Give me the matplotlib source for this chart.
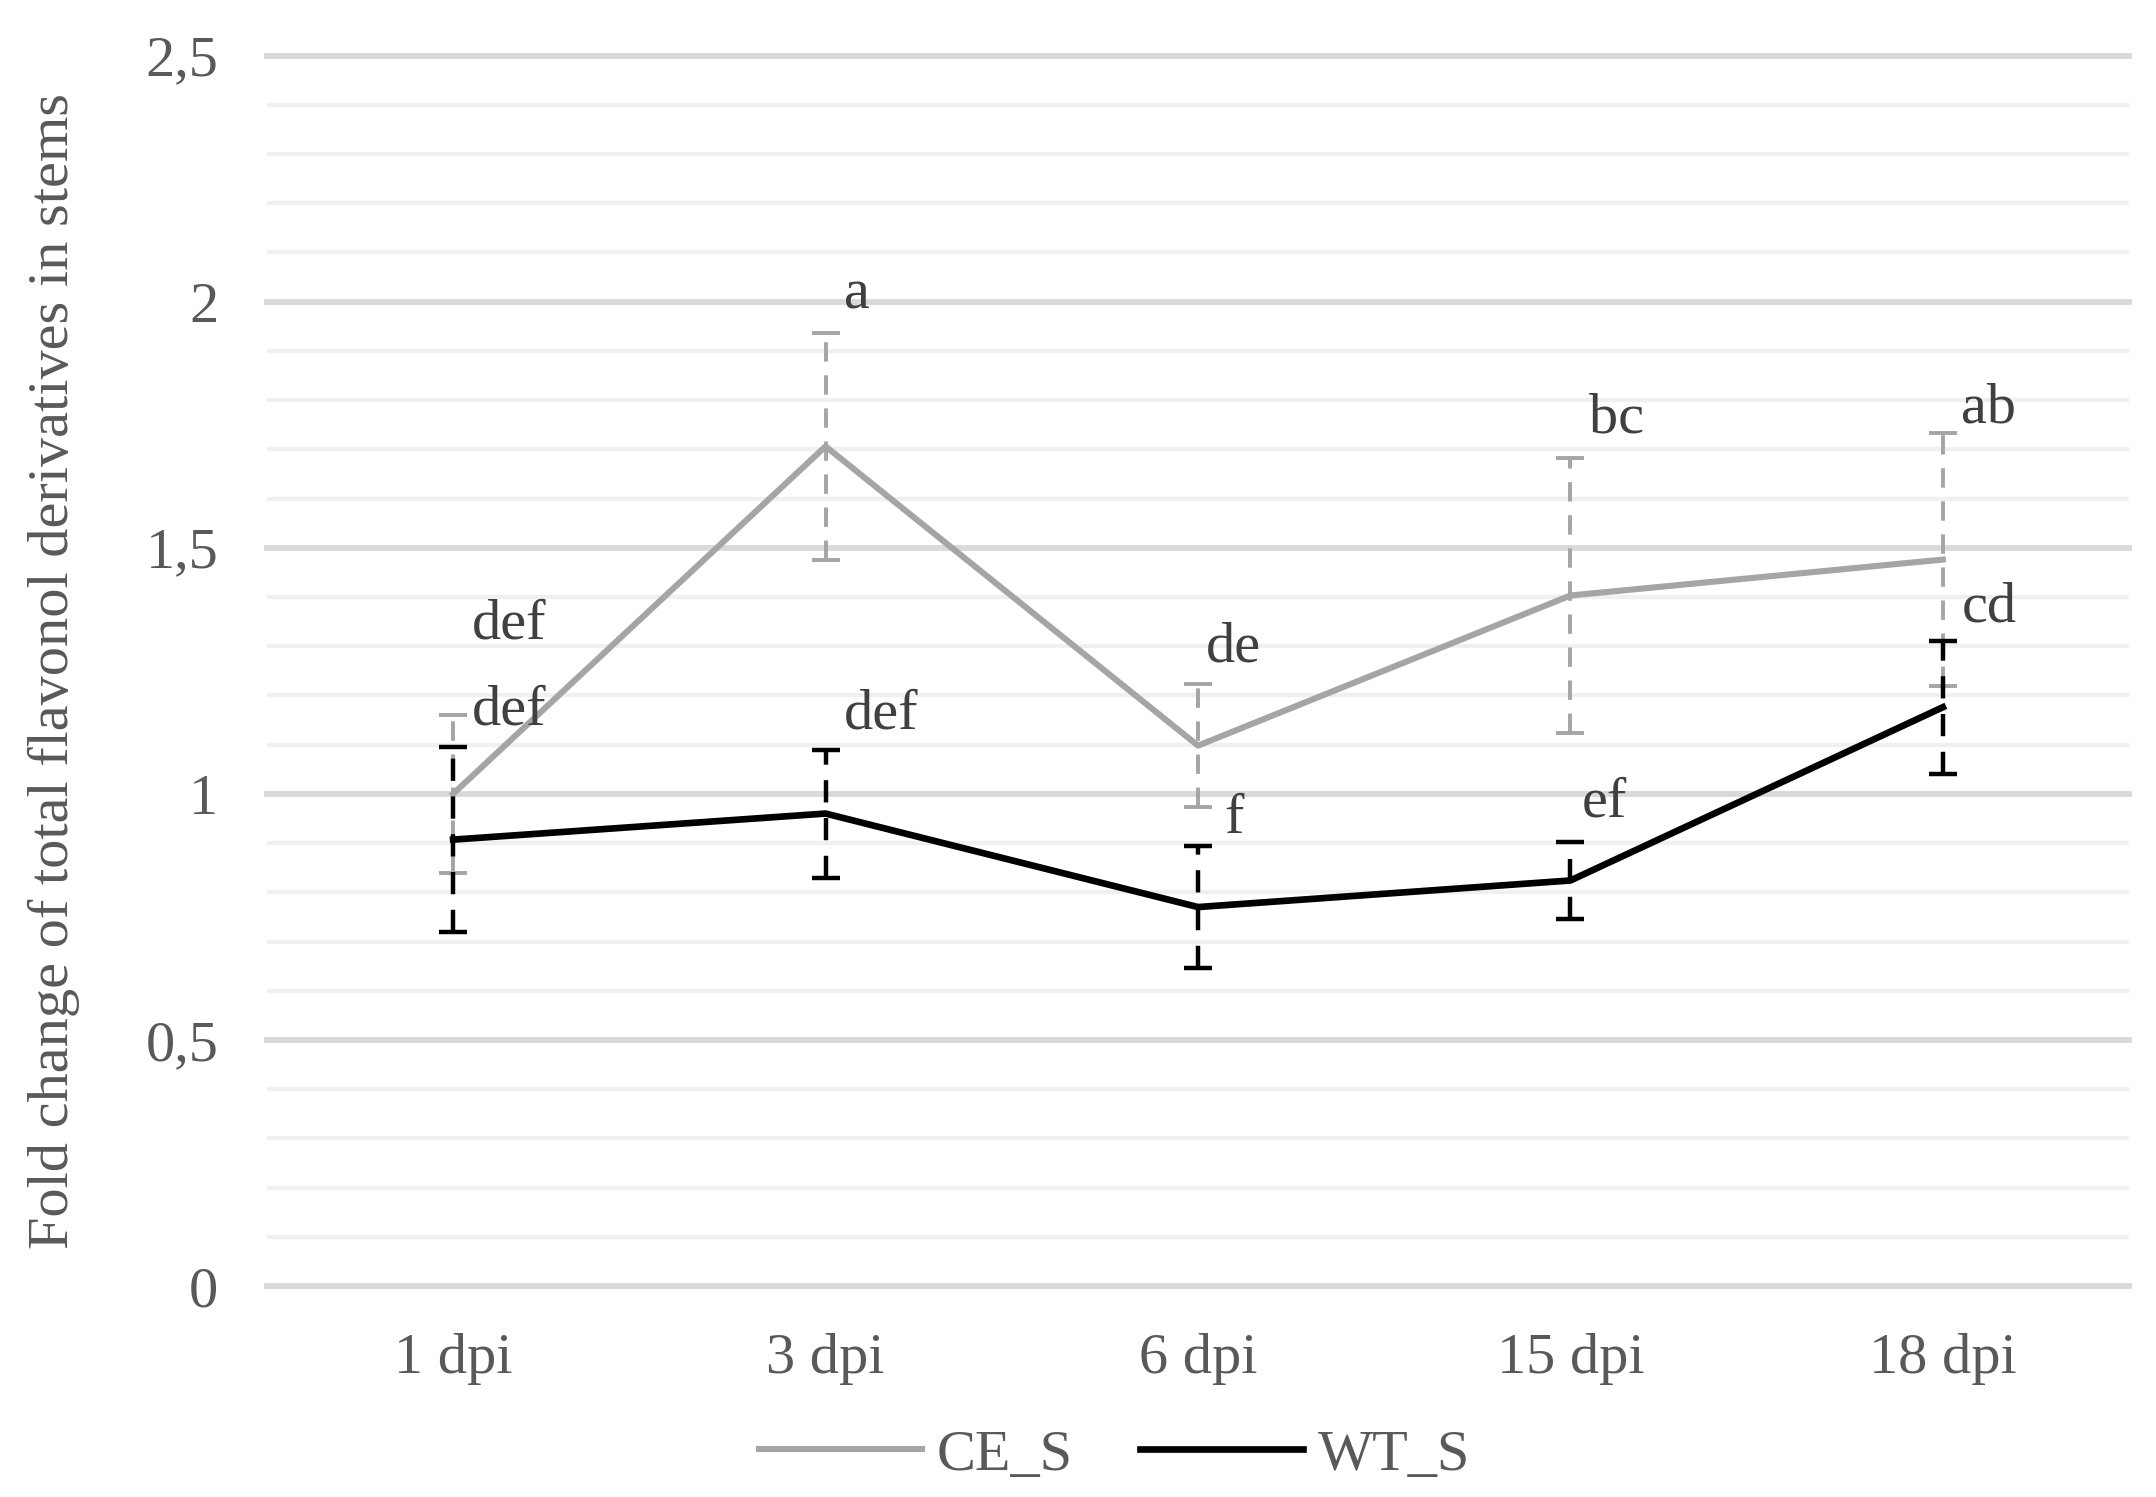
import matplotlib
matplotlib.use("Agg")
import matplotlib.pyplot as plt
from matplotlib.lines import Line2D
from matplotlib.ticker import FuncFormatter, MultipleLocator

# ---- data ----
categories = ["1 dpi", "3 dpi", "6 dpi", "15 dpi", "18 dpi"]
ce_values = [1.00, 1.706, 1.098, 1.403, 1.476]
ce_errors = [0.16, 0.23, 0.125, 0.28, 0.257]
wt_values = [0.907, 0.960, 0.770, 0.824, 1.176]
wt_errors = [0.188, 0.13, 0.124, 0.078, 0.135]
series_names = ["CE_S", "WT_S"]

# significance letters
letter_x = [0.05, 0.05, 1.05, 1.05, 2.02, 2.07, 3.05, 3.03, 4.05, 4.05]
letter_y = [1.345, 1.169, 2.014, 1.161, 1.297, 0.949, 1.763, 0.983, 1.782, 1.379]
letter_txt = ["def", "def", "a", "def", "de", "f", "bc", "ef", "ab", "cd"]

ylabel = "Fold change of total flavonol derivatives in stems"

# ---- style ----
plt.rcParams['font.family'] = ['Liberation Serif', 'DejaVu Serif']
FS = 42
GRAY = "#A5A5A5"
BLACK = "#000000"
TXT = "#595959"

fig = plt.figure(figsize=(21.56, 14.97), dpi=100)
ax = fig.add_axes([0.1238, 0.1409, 0.8637, 0.822])

x = list(range(len(categories)))
dash = (0, (5, 3.5))

eb1 = ax.errorbar(x, ce_values, yerr=ce_errors, color=GRAY, lw=4.4,
                  elinewidth=2.8, capsize=10, capthick=2.8, zorder=3)
eb1[2][0].set_linestyle(dash)
eb2 = ax.errorbar(x, wt_values, yerr=wt_errors, color=BLACK, lw=4.8,
                  elinewidth=3.2, capsize=10, capthick=3.2, zorder=4)
eb2[2][0].set_linestyle(dash)

for lx, ly, t in zip(letter_x, letter_y, letter_txt):
    ax.text(lx, ly, t, fontsize=FS, color="#404040", ha="left", va="center", zorder=5)

ax.set_xlim(-0.5, len(categories) - 0.5)
ax.set_ylim(0, 2.5)
ax.set_xticks(x)
ax.set_xticklabels(categories)
ax.yaxis.set_major_locator(MultipleLocator(0.5))
ax.yaxis.set_minor_locator(MultipleLocator(0.1))
ax.yaxis.set_major_formatter(FuncFormatter(lambda v, p: f"{v:g}".replace('.', ',')))

ax.tick_params(axis='both', which='both', length=0, labelsize=FS, labelcolor=TXT)
ax.tick_params(axis='y', pad=35)
ax.tick_params(axis='x', pad=34)

ax.yaxis.grid(True, which='major', color='#D9D9D9', lw=4.2, zorder=0)
ax.yaxis.grid(True, which='minor', color='#F0F0F0', lw=3.0, zorder=0)
ax.xaxis.grid(False)
ax.set_axisbelow(True)
for gl in ax.get_ygridlines():
    gl.set_clip_on(False)
for s in ax.spines.values():
    s.set_visible(False)

ax.set_ylabel(ylabel, fontsize=FS, color=TXT)
ax.yaxis.set_label_coords(-0.1006, 0.5)

handles = [Line2D([], [], color=GRAY, lw=4.4), Line2D([], [], color=BLACK, lw=4.8)]
fig.legend(handles, series_names, loc='center', bbox_to_anchor=(0.517, 0.028),
           ncol=2, frameon=False, fontsize=FS, labelcolor=TXT,
           handlelength=2.8, handletextpad=0.25, columnspacing=1.15)

fig.savefig("out.png", dpi=100, facecolor="white")
